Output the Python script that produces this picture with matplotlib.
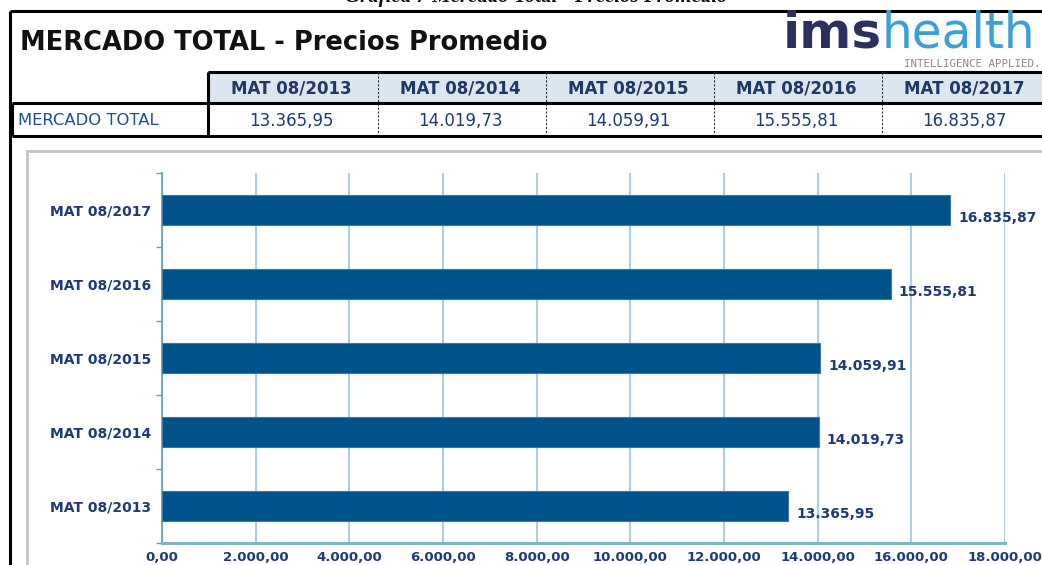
import matplotlib
matplotlib.use("Agg")
import matplotlib.pyplot as plt
from matplotlib.patches import Rectangle
from matplotlib.ticker import FixedLocator

# ---------------- data ----------------
categories = ["MAT 08/2013", "MAT 08/2014", "MAT 08/2015", "MAT 08/2016", "MAT 08/2017"]
values = [13365.95, 14019.73, 14059.91, 15555.81, 16835.87]
value_labels = ["13.365,95", "14.019,73", "14.059,91", "15.555,81", "16.835,87"]
x_ticks = [0, 2000, 4000, 6000, 8000, 10000, 12000, 14000, 16000, 18000]
x_tick_labels = ["0,00", "2.000,00", "4.000,00", "6.000,00", "8.000,00",
                 "10.000,00", "12.000,00", "14.000,00", "16.000,00", "18.000,00"]
row_label = "MERCADO TOTAL"
title = "MERCADO TOTAL - Precios Promedio"
caption = "Gráfica 7 Mercado Total - Precios Promedio"

W, H = 1042, 565
NAVY = "#1f3a78"
BAR = "#00528a"

fig = plt.figure(figsize=(W / 100, H / 100), dpi=100)
fig.patch.set_facecolor("white")

# overlay in pixel coordinates
ov = fig.add_axes([0, 0, 1, 1], zorder=0)
ov.set_xlim(0, W)
ov.set_ylim(H, 0)
ov.axis("off")

# caption (cut at top, as in the reference)
ov.text(536, 2, caption, ha="center", va="baseline", fontsize=15,
        family="Liberation Serif", weight="bold", style="italic", color="#111111")

# outer box
ov.plot([10, W + 5], [11, 11], color="black", lw=2.2, solid_capstyle="butt")
ov.plot([10, 10], [11, H + 5], color="black", lw=2.2, solid_capstyle="butt")

# title
ov.text(20, 43, title, ha="left", va="center", fontsize=18.5, weight="bold", color="#111111")

# logo
t_ims = ov.text(783, 48, "ims", ha="left", va="baseline", fontsize=36, weight="bold",
                color="#2d2f5f")
fig.canvas.draw()
r = fig.canvas.get_renderer()
bb = t_ims.get_window_extent(r)
x_after = bb.x1
ov.text(x_after, 48, "health", ha="left", va="baseline", fontsize=35,
        color="#3c9fd8")
ov.text(1040, 64, "INTELLIGENCE APPLIED.", ha="right", va="center", fontsize=7.8,
        family="DejaVu Sans Mono", color="#8a8a8a")

# table
col_edges = [208, 378, 546, 714, 882, 1050]
hdr_top, hdr_bot, row_bot = 72, 103, 136
ov.add_patch(Rectangle((208, hdr_top), W - 208 + 10, hdr_bot - hdr_top,
                       facecolor="#dce6f1", edgecolor="none"))
for i, cat in enumerate(categories):
    cx = (col_edges[i] + col_edges[i + 1]) / 2 - 2
    ov.text(cx, (hdr_top + hdr_bot) / 2 + 1, cat, ha="center", va="center",
            fontsize=12, weight="bold", color="#1f3864")
    ov.text(cx, (hdr_bot + row_bot) / 2 + 1, value_labels[i], ha="center", va="center",
            fontsize=12, color="#1f3a78")
ov.text(18, (hdr_bot + row_bot) / 2 + 1, row_label, ha="left", va="center",
        fontsize=11.8, color="#1f4e99")
for xe in col_edges[1:-1]:
    ov.plot([xe, xe], [hdr_top, row_bot], color="#333333", lw=0.8, ls=(0, (2, 1.5)))
# thick borders
ov.plot([208, W + 5], [hdr_top, hdr_top], color="black", lw=2.2, solid_capstyle="butt")
ov.plot([208, 208], [hdr_top, row_bot], color="black", lw=2.2, solid_capstyle="butt")
ov.plot([12, W + 5], [hdr_bot, hdr_bot], color="black", lw=2.2, solid_capstyle="butt")
ov.plot([12, W + 5], [row_bot, row_bot], color="black", lw=2.2, solid_capstyle="butt")
ov.plot([12, 12], [hdr_bot, row_bot], color="black", lw=2.2, solid_capstyle="butt")

# chart frame
ov.add_patch(Rectangle((27, 151), W, H, facecolor="white", edgecolor="#c4c4c4", lw=2))

# ---------------- chart ----------------
x0, x1, yt, yb = 162, 1005, 173, 543
ax = fig.add_axes([x0 / W, (H - yb) / H, (x1 - x0) / W, (yb - yt) / H], zorder=2)
ax.set_facecolor("none")
ypos = list(range(len(categories)))
ax.barh(ypos, values, height=0.405, color=BAR, edgecolor="#3f78a8", lw=0.8, zorder=3)
ax.set_xlim(0, 18000)
ax.set_ylim(-0.5, len(categories) - 0.5)
ax.xaxis.set_major_locator(FixedLocator(x_ticks))
ax.set_xticklabels(x_tick_labels)
ax.set_yticks(ypos)
ax.set_yticklabels(categories)
ax.yaxis.set_minor_locator(FixedLocator([i - 0.5 for i in range(len(categories) + 1)]))
ax.grid(axis="x", color="#9cc3de", lw=1.2, zorder=0)
ax.set_axisbelow(True)
for s in ["top", "right"]:
    ax.spines[s].set_visible(False)
ax.spines["left"].set_color("#5f9fba")
ax.spines["left"].set_linewidth(1.2)
ax.spines["bottom"].set_color("#80b3c3")
ax.spines["bottom"].set_linewidth(2.2)
ax.tick_params(axis="y", which="major", length=0, pad=8, labelsize=10, labelcolor=NAVY)
ax.tick_params(axis="y", which="minor", length=4, color="#5f9fba", width=1)
ax.tick_params(axis="x", length=0, pad=6, labelsize=9.5, labelcolor=NAVY)
for lab in ax.get_xticklabels() + ax.get_yticklabels():
    lab.set_fontweight("bold")

for y, v, lab in zip(ypos, values, value_labels):
    ax.annotate(lab, xy=(v, y), xytext=(8, -8), textcoords="offset pixels",
                ha="left", va="center", fontsize=10, weight="bold", color=NAVY,
                annotation_clip=False)

fig.savefig("out.png", dpi=100, facecolor="white")
